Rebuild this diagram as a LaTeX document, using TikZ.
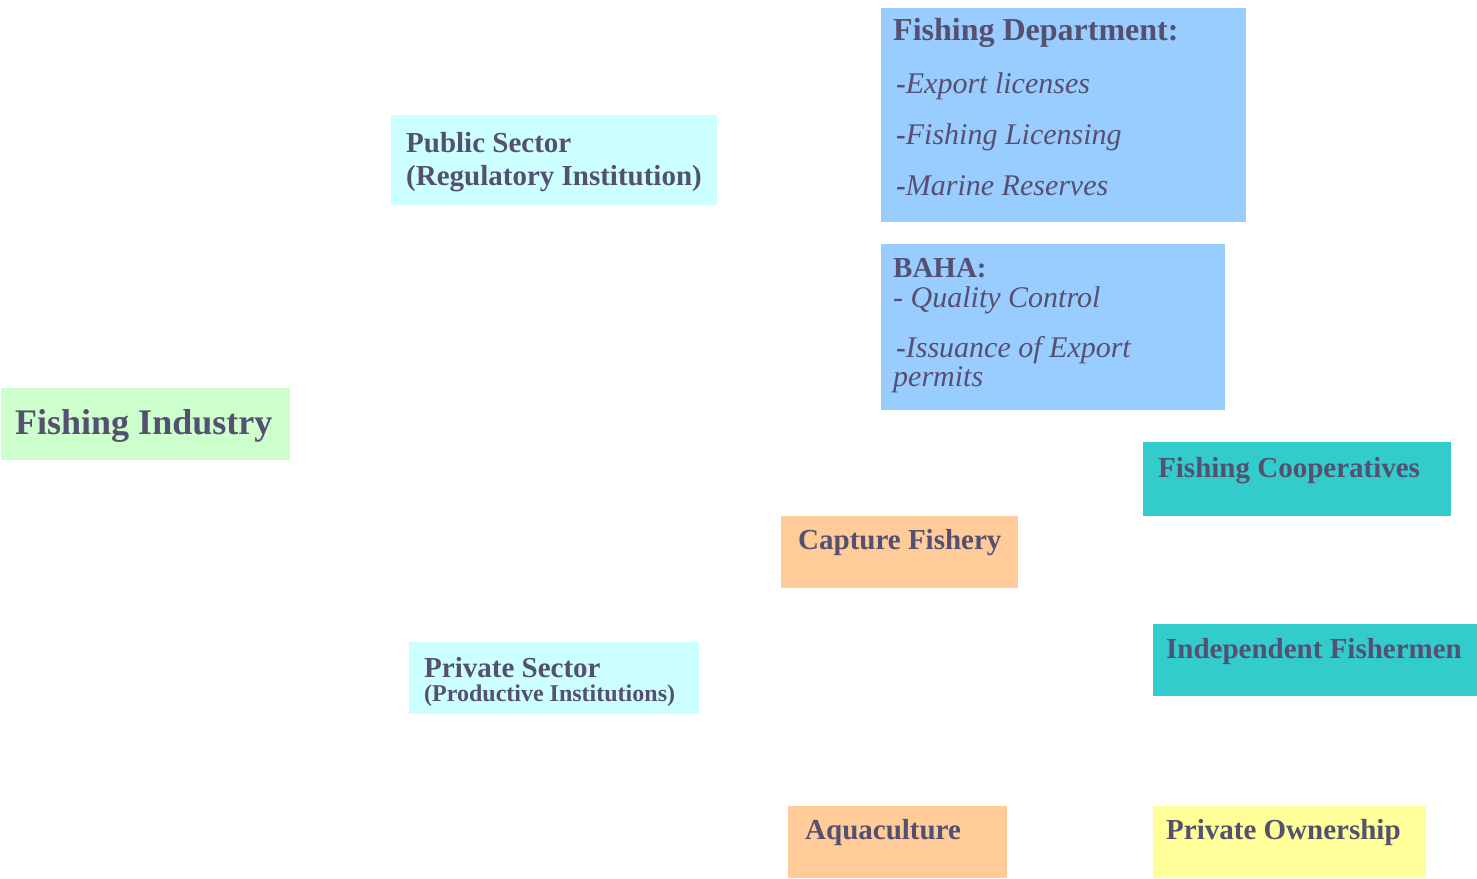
\documentclass[tikz,border=0pt]{standalone}
\usepackage{fontspec}
\setmainfont{Liberation Serif}
\definecolor{txtc}{HTML}{565070}
\definecolor{cgreen}{HTML}{CCFFCC}
\definecolor{ccyan}{HTML}{CCFFFF}
\definecolor{cblue}{HTML}{99CCFF}
\definecolor{cteal}{HTML}{33CCCC}
\definecolor{corange}{HTML}{FFCC99}
\definecolor{cyellow}{HTML}{FFFF99}
\tikzset{
  box/.style={draw=none, inner sep=0pt, outer sep=0pt, anchor=north west},
  txt/.style={anchor=base west, inner sep=0pt, text=txtc, font=\fontsize{29}{33}\selectfont\bfseries},
  itxt/.style={anchor=base west, inner sep=0pt, text=txtc, font=\fontsize{30}{33}\selectfont\itshape},
}
\newcommand{\itm}[1]{{\fontsize{29}{33}\selectfont\bfseries-}{\fontsize{30}{33}\selectfont\mdseries\itshape #1}}
\begin{document}
\begin{tikzpicture}[x=1pt, y=-1pt]
\useasboundingbox (0,0) rectangle (1477,878);
% boxes
\node[box, fill=cgreen, minimum width=289, minimum height=72] (bInd) at (1,388) {};
\node[box, fill=ccyan, minimum width=326, minimum height=90] (bPub) at (391,115) {};
\node[box, fill=cblue, minimum width=365, minimum height=214] (bDep) at (881,8) {};
\node[box, fill=cblue, minimum width=344, minimum height=166] (bBaha) at (881,244) {};
\node[box, fill=cteal, minimum width=308, minimum height=74] (bCoop) at (1143,442) {};
\node[box, fill=corange, minimum width=237, minimum height=72] (bCap) at (781,516) {};
\node[box, fill=cteal, minimum width=324, minimum height=72] (bIndep) at (1153,624) {};
\node[box, fill=ccyan, minimum width=290, minimum height=72] (bPriv) at (409,642) {};
\node[box, fill=corange, minimum width=219, minimum height=72] (bAqua) at (788,806) {};
\node[box, fill=cyellow, minimum width=273, minimum height=72] (bOwn) at (1153,806) {};
% texts
\node[txt, font=\fontsize{36}{40}\selectfont\bfseries] (tInd) at (15,434) {Fishing Industry};
\node[txt] (tPub1) at (406,152) {Public Sector};
\node[txt] (tPub2) at (406,185) {(Regulatory Institution)};
\node[txt, font=\fontsize{32}{36}\selectfont\bfseries] (tDep) at (893,40) {Fishing Department:};
\node[txt] (tDep1) at (896,93) {\itm{Export licenses}};
\node[txt] (tDep2) at (896,144) {\itm{Fishing Licensing}};
\node[txt] (tDep3) at (896,195) {\itm{Marine Reserves}};
\node[txt] (tBaha) at (893,277) {BAHA:};
\node[itxt] (tBaha1) at (893,307) {\upshape-\itshape\ Quality Control};
\node[txt] (tBaha2) at (896,357) {\itm{Issuance of Export}};
\node[itxt] (tBaha3) at (893,386) {permits};
\node[txt] (tCoop) at (1158,477) {Fishing Cooperatives};
\node[txt] (tCap) at (798,549) {Capture Fishery};
\node[txt] (tIndep) at (1166,658) {Independent Fishermen};
\node[txt] (tPriv1) at (424,677) {Private Sector};
\node[txt, font=\fontsize{24}{28}\selectfont\bfseries] (tPriv2) at (424,701) {(Productive Institutions)};
\node[txt] (tAqua) at (805,839) {Aquaculture};
\node[txt] (tOwn) at (1166,839) {Private Ownership};
\end{tikzpicture}
\end{document}
